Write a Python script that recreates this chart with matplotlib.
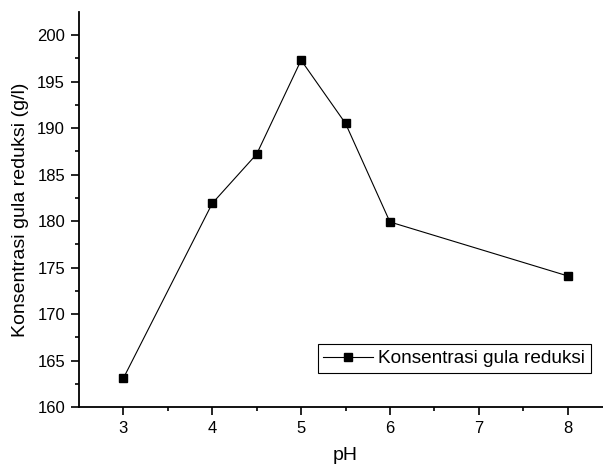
import numpy as np
import matplotlib.pyplot as plt

ph = [3, 4, 4.5, 5, 5.5, 6, 8]
gula = [163.1, 181.9, 187.2, 197.3, 190.5, 179.9, 174.1]

plt.rcParams['font.family'] = ['Liberation Sans', 'DejaVu Sans']
fig = plt.figure(figsize=(6.03, 4.66), dpi=100)
ax = fig.add_axes([0.131, 0.1266, 0.884, 0.848])

ax.plot(ph, gula, color='black', lw=0.8, marker='s', markersize=6,
        markerfacecolor='black', label='Konsentrasi gula reduksi')

ax.set_xlim(2.5, 8.5)
ax.set_ylim(160, 202.5)
ax.set_xticks([3, 4, 5, 6, 7, 8])
ax.set_xticks(np.arange(3.5, 8.5, 1), minor=True)
ax.set_yticks(np.arange(160, 201, 5))
ax.set_yticks(np.arange(162.5, 202.5, 5), minor=True)
ax.tick_params(which='major', direction='out', length=6, width=1.2, labelsize=12, pad=4)
ax.tick_params(which='minor', direction='out', length=3, width=1.2)

for s in ['top', 'right']:
    ax.spines[s].set_visible(False)
for s in ['left', 'bottom']:
    ax.spines[s].set_linewidth(1.3)

ax.set_xlabel('pH', fontsize=14, labelpad=8)
ax.set_ylabel('Konsentrasi gula reduksi (g/l)', fontsize=14, labelpad=6)

leg = ax.legend(loc='lower right', bbox_to_anchor=(591 / 603, 93 / 466),
                bbox_transform=fig.transFigure, borderaxespad=0, fontsize=13.7,
                fancybox=False, edgecolor='black', framealpha=1,
                handlelength=2.6, borderpad=0.3, handletextpad=0.3, numpoints=1)
leg.get_frame().set_linewidth(0.8)

plt.savefig('out.png')
